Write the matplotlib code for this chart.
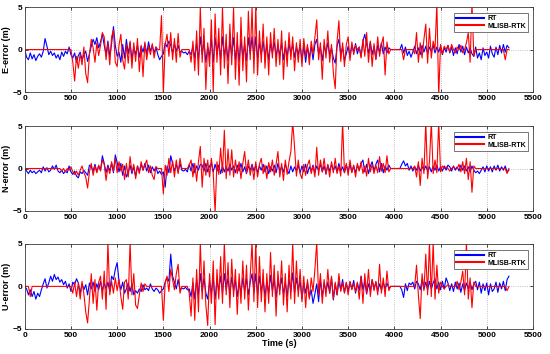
import numpy as np
import matplotlib
matplotlib.use('Agg')
import matplotlib.pyplot as plt

# time axis, one sample every 20 s
t = np.arange(0, 5241, 20)

# E component
e_rt = [
    0, -0.9, -1.2, -0.4, -1.1, -0.6, -1.3, -0.8, -0.5, -0.9, -0.2, 1.3, 0.4, -0.6, -0.2, -0.7, -0.4, -1.0, -0.6, -1.2, -0.3, -0.8, -0.2, -0.5, 0.3,
    -0.6, -1.0, -0.4, -1.5, -0.7, -0.3, -1.2, -0.6, -0.2, -1.4, -0.5, 0.4, 1.2, 0.6, 1.4, 0.2, 0.9, 1.8, 0.5, -0.6, 1.0, -0.8, 0.7, 2.7, 0.5,
    -0.8, -0.3, -1.5, 0.6, -1.0, 1.2, -0.5, 0.8, -1.2, 0.3, -0.6, 0.5, -0.9, 0.4, -0.3, 0.7, -0.5, 0.9, -0.2, 0.5, -0.4, 0.3, -0.6, -1.2, -0.8,
    -0.5, 0.8, 0.3, 1.0, 0.5, -0.4, 0.7, -0.2, 0.5, -0.3, -0.2, -0.4, -0.3, -0.6, -0.2, -0.6, 0.4, -1.0, 0.8, -1.2, 1.5, -0.6, 0.9, -1.5, 0.3,
    -0.8, 1.2, -1.5, 1.4, -0.6, 0.9, -1.1, 1.5, -0.8, 0.7, -1.3, 1.0, -0.7, 1.4, -1.2, 0.8, -1.4, 1.2, -0.9, 0.6, -1.3, 1.4, -0.5, 1.5, -1.0,
    1.5, -1.1, 0.8, -0.6, 1.0, -0.9, 0.6, -1.2, 0.7, -0.4, 0.9, -0.8, 0.5, -0.7, 0.8, -1.2, 0.4, -0.8, 0.7, -0.5, 0.6, -0.9, 0.3, -0.6, 0.5,
    -1.3, 0.5, -1.5, 0.3, -1.0, 0.4, -1.2, 0.6, 1.2, -0.5, 0.3, -1.3, 0.5, -0.4, 0.8, -0.6, 0.2, -1.0, -1.6, 0.4, 1.2, -0.6, 0.3, -1.3, -0.5,
    0.4, -0.9, 0.6, -0.3, 0.7, -0.5, 0.3, -0.8, 1.0, 1.8, 0.6, -0.4, 0.9, -0.6, 0.4, -1.1, 0.5, -0.3, 0.8, -0.5, 0.3, -0.4, 0.2, 0, 0,
    0, 0, 0, 0, 0.6, -0.4, 0.3, -0.7, -0.2, -0.9, -0.3, 0.4, -0.5, 0.2, -0.6, 0.5, -0.3, 0.4, -0.5, 0.3, -0.2, 0.5, -0.4, 0.3, -0.3,
    0.4, -0.6, 0.2, -0.3, 0.5, -0.4, 0.3, -0.7, 0.2, -0.5, 0.6, -0.3, 0.4, -0.6, 0.3, -0.4, 0.2, -0.5, -0.8, 0.3, -1.0, -0.4, -1.2, 0.2, -0.7,
    -0.3, -1.0, 0.4, -0.5, -0.9, 0.3, -0.6, 0.5, -0.4, 0.6, -0.3, 0.5, 0.2,
]
e_ml = [
    0, 0, 0, 0, 0, 0, 0, 0, 0, 0, 0, 0, 0, 0, 0, 0, 0, 0, 0, 0, 0, 0, 0, 0, 0,
    0, -1.5, -3.7, -0.8, -2.2, -0.5, -1.8, 0.3, -2.8, -3.9, -0.6, 1.2, 0.2, -1.5, 0.8, -0.7, 0.5, 2.0, 1.5, -1.2, 0.8, -1.8, 1.5, 2.3, -1.5,
    -2.0, 0.5, 1.8, -1.2, -2.3, 0.6, -1.6, 1.0, -2.2, 0.8, -1.4, 1.3, -2.6, 0.5, -3.2, 0.9, -1.2, 0.4, -0.6, 0.7, -1.0, 0.3, 0, 0, 4.0,
    -5.2, 0.6, 1.8, -0.8, 2.0, -1.2, 1.3, -1.5, 1.9, -0.9, 0, 0, 0, 0, 0, -1.5, 1.0, -2.5, 2.2, -3.0, 5.0, -1.5, 2.5, -4.7, 0.8,
    -2.0, 3.5, -5.0, 4.2, -1.5, 2.5, -3.0, 5.0, -2.2, 1.8, -4.0, 3.0, -1.8, 5.0, -3.5, 2.0, -4.2, 3.8, -2.5, 1.5, -3.8, 4.5, -1.2, 5.0, -2.8,
    5.0, -3.0, 2.2, -1.5, 3.0, -2.2, 1.5, -3.0, 2.0, -1.0, 2.5, -2.0, 1.2, -1.8, 2.2, -3.5, 1.0, -2.0, 2.0, -1.2, 1.5, -2.5, 0.8, -1.5, 1.2,
    -2.0, 1.3, -0.8, 0.6, -1.8, 1.0, -0.5, 1.4, 3.5, -1.2, 0.8, -3.5, 1.2, -1.0, 2.2, -1.5, 0.6, -2.8, -4.6, 1.0, 3.4, -1.4, 0.8, -2.0, 0.6,
    1.5, -1.3, 0.9, -0.6, 0.5, 0, 0.3, -1.0, 1.2, -0.8, 2.0, -1.5, 1.0, -2.0, 0.7, -1.2, 1.5, -0.8, 0.6, 1.5, -3.0, 0.9, -0.5, 0, 0,
    0, 0, 0, 0, 0, -1.2, 0, 0, 0, 0, 0, -0.5, 2.0, -1.5, 0.8, -1.0, 1.2, 3.0, -1.6, 2.5, -1.0, 1.0, 0, 5.5, -5.5,
    0.6, -0.5, 0.4, 0, 0.5, -0.3, 0.6, 0, -0.4, 0.3, 0, 0.5, -0.4, 0, 0.8, 2.0, -1.5, 5.5, -0.8, 0, 0, 0, 0, 0, 0,
    0, 0, 0, 0, 0, 0, 0, 0, 0, 0, -1.2, 0, 0,
]

# N component
n_rt = [
    0, -0.3, -0.6, -0.2, -0.5, -0.3, -0.6, -0.4, -0.2, -0.5, 0.2, -0.3, 0.1, -0.4, -0.2, 0.3, -0.1, 0.4, -0.3, -0.5, -0.2, -0.6, -0.3, -0.5, 0.3,
    -0.4, -0.7, -0.3, -0.9, -1.1, -0.4, -0.6, -0.2, -0.5, -0.8, 0.4, 0.2, -0.3, 0.5, -0.4, 0.3, -0.2, 1.5, 0.6, -0.5, 0.4, -0.3, 0.6, -0.5, 1.6,
    0.7, -0.4, 0.6, -0.8, 0.3, -1.0, -0.5, 0.4, -0.6, 0.2, -0.9, 0.3, -0.4, 0.5, -0.2, 0.6, -0.3, 0.4, -0.5, 0.2, -0.3, 0.2, -0.6, -0.3, -0.7,
    -0.4, -2.2, 0.3, -0.5, 1.5, 0.6, -0.3, 0.5, -0.4, 0.6, -0.2, -0.3, -0.1, -0.4, 0.5, -0.3, 0.6, -0.5, 0.3, -0.2, 0.5, 0.4, -0.3, 0.6, -0.4,
    0.3, 0.6, -0.4, 0.5, -0.3, 0.4, -0.6, 0.3, -0.4, 0.2, -0.3, 0.5, -0.2, 0.3, -0.5, 0.4, -0.3, 0.6, -0.4, 0.2, -0.6, 0.3, -0.2, 0.5, -0.3,
    0.4, -0.5, 0.3, -0.2, 0.5, -0.4, 0.3, -0.6, 0.2, -0.3, 0.4, -0.5, 0.6, -0.3, 0.2, -0.4, 0.5, -0.2, -0.6, 0.3, -0.4, 0.2, -0.3, 0.4, -0.5,
    0.3, -0.4, 0.5, -0.6, 0.2, -0.3, 0.4, -0.5, 0.3, -0.2, 0.5, -0.4, 0.3, -0.6, 0.4, -0.3, 0.5, -0.2, 0.3, -0.4, 0.6, -0.3, 0.2, -0.5, 0.4,
    -0.3, 0.5, -0.4, 0.3, -0.5, 0.4, -0.2, 0.6, 1.0, -0.4, 0.5, -0.6, 0.3, 0.8, -0.3, 0.5, 1.0, -0.4, 0.6, -0.5, 0.3, -0.2, 0.4, 0, 0,
    0, 0, 0, 0, 0.5, 0.9, 0.3, 0.6, -0.2, 0.3, -0.3, 0.2, -0.2, 0.4, -0.3, 0.2, -0.2, 0.3, -0.3, 0.2, -0.4, 0.3, -0.2, 0.4, -0.3,
    0.2, -0.3, 0.3, -0.2, 0.4, 0.2, -0.3, 0.3, -0.2, 0.2, -0.3, 0.4, -0.2, 0.3, -0.3, 0.2, -0.4, 0.3, -0.2, -0.5, -0.3, -0.6, -0.2, 0.2, -0.4,
    0.3, -0.3, 0.2, -0.4, 0.3, -0.2, 0.4, -0.3, 0.2, -0.2, 0.3, -0.4, -0.2,
]
n_ml = [
    0, 0, 0, 0, 0, 0, 0, 0, 0, 0, 0, 0, 0, 0, 0, 0, 0, 0, 0, 0, -0.3, 0, -0.4, 0, -0.2,
    0.2, -0.4, -0.7, -0.3, -0.8, -0.2, 0.3, -0.5, -1.0, -2.3, -0.4, 0.6, -0.8, 0.3, -0.5, 0.4, -0.3, 1.0, 0.5, -1.4, 0.2, -0.6, 0.8, -0.3, 1.2,
    -0.5, 0.8, -0.3, 0.5, -1.3, 0.6, -1.0, 1.4, -0.4, 0.5, -1.2, 0.3, -0.6, 0.8, -0.2, 0.4, 1.0, -0.5, 0.3, -0.8, -1.3, 0.2, 0, 0, 0,
    -3.0, 0.4, -0.8, 1.2, -0.5, 0.9, -1.0, 1.0, -0.6, 1.2, 0, 0, 0, 0, 0.4, 1.0, -1.0, 0.6, -1.5, 0.8, 2.6, -2.2, 1.2, -0.8, 1.0,
    -1.0, 1.2, -0.6, -5.2, 0.8, -0.7, 2.4, -0.5, 4.5, -1.2, 2.3, -0.8, 2.2, -1.0, 1.0, -0.6, 0.8, -1.2, 0.6, 2.0, -0.5, 1.0, -0.8, 0.4, -1.3,
    0.8, -1.0, 0.5, 1.2, -0.6, 0.4, -1.2, 0.7, -0.4, 1.0, -0.8, 0.5, 2.0, -1.0, 0.6, -1.4, 1.0, -0.7, 0.8, 2.0, 5.5, 2.5, -0.9, 1.0, -0.6,
    -1.2, 0.5, -0.8, 0.4, 1.0, -0.6, 0.3, -1.0, 2.5, -0.8, 1.0, -0.4, 1.2, -0.7, 0.5, -1.0, 0.8, -0.5, 1.2, -0.6, 0.3, -0.9, 5.5, -0.5, 0.6,
    -0.8, 1.0, -0.5, 0.4, -1.0, 0.6, -0.3, 0.8, -0.6, 0.3, -0.9, 1.2, -0.4, 0.5, -0.6, 0.4, -0.5, 1.4, -0.3, 0.6, -0.5, 1.5, -0.4, 0, 0,
    0, 0, 0, 0, 0, 0, 0, 0, 0, 0, 0, 0.3, -1.0, 0.8, -2.0, 1.2, -0.6, 5.5, -1.2, 0.8, 5.5, -0.6, 1.0, -0.5, 5.5,
    -0.4, 0.3, 0, 0.2, 0, -0.3, 0, 0.2, 0, 0, 0.5, -0.4, 0.8, -0.6, 1.2, -1.3, 0.8, -2.8, 0.3, 0, 0, 0, 0, 0, 0,
    0, 0, 0, 0, 0, 0, 0, 0, 0, 0, 0, -0.6, 0,
]

# U component
u_rt = [
    0, -0.3, -1.0, -0.4, -1.2, -0.6, -1.5, -0.8, -1.2, -0.4, 0.3, 0.9, -0.2, 0.4, 1.2, 0.6, 1.4, 0.8, 1.1, 0.5, 0.8, 0.2, 0.6, -0.2, 0.3,
    -0.6, 0.5, 0.2, 0.9, 0.4, -0.8, 0.3, -0.4, 0.2, -1.0, 0.4, -0.3, 0.5, -0.6, 0.3, -0.4, 0.6, -0.5, 0.4, -0.3, 0.5, -0.6, 1.2, 0.8, 2.0,
    2.8, 0.6, -0.4, 0.5, -0.8, -0.3, 0.4, -0.6, 0.3, -1.0, -0.5, -0.8, -0.3, -0.6, 0.2, -0.4, -0.2, -0.5, 0.3, -0.3, -0.6, -0.2, -0.4, -0.8, -0.5,
    -0.3, 0.5, 1.0, 0.6, 3.8, 1.2, 0.5, -0.3, 0.8, -0.4, -0.2, -0.3, -0.1, -0.4, -0.3, -1.2, 0.4, -1.5, 0.8, -1.0, 1.5, -0.6, 1.0, -0.8, -1.5,
    0.6, -0.8, 1.0, -1.5, 0.7, -0.5, 1.2, -0.8, 1.5, -0.4, 1.0, -0.9, 1.1, -0.5, 0.7, -1.2, 0.5, -0.8, 1.0, -0.6, 0.9, -1.0, 0.5, 1.5, -0.7,
    1.5, -1.0, 1.2, -0.7, 0.8, -1.2, 0.5, -0.8, 1.3, -0.5, 0.9, -1.3, 0.6, -0.4, 1.0, -0.9, 0.5, -1.2, 0.9, -0.6, 1.6, -0.8, 1.0, -0.5, 0.7,
    -1.5, 0.4, -0.8, 0.5, -1.3, -0.4, -2.0, -0.9, 0.3, -1.8, 0.8, -1.2, 0.4, -0.6, 0.5, -0.8, 1.0, -1.6, 0.3, -1.0, 0.6, -0.4, 0.8, -0.7, 0.4,
    -0.6, 0.5, -0.3, 0.7, -0.8, 0.4, -0.5, 1.2, -0.4, 0.6, -0.9, 0.3, -0.5, 0.8, -0.3, 0.5, -0.6, 0.3, -0.4, 0.5, -0.3, 0.4, -0.2, 0, 0,
    0, 0, 0, 0, -0.4, -1.3, 0.3, -0.5, 0.4, 0.2, 0.5, -0.3, 0.6, 0.3, -0.4, 0.8, -0.3, 0.5, -0.4, 0.6, -0.3, 0.4, 0.9, -0.3, 0.5,
    -0.4, 0.6, -0.3, 1.0, 0.4, -0.5, 0.3, -0.6, 0.5, -0.3, 0.4, -0.7, 0.3, -0.5, 0.4, -0.3, 0.5, -0.4, 0.3, 0.6, -0.4, 0.5, -0.8, 0.3, -0.5,
    0.4, -1.0, 0.3, -0.6, -0.3, 0.5, -0.7, 0.4, -0.3, 0.6, -0.5, 0.8, 1.2,
]
u_ml = [
    0, 0, 0, -1.2, 0, 0, 0, 0, 0, 0, 0, 0, 0, 0, 0, 0, 0, 0, 0, 0, 0, 0, 0, 0, 0,
    0, -0.8, 0.5, -1.2, 0.4, -1.5, 0.6, -0.9, -3.0, -4.3, -1.5, 1.5, -2.0, 0.8, -2.8, 0.5, 1.2, -1.5, 1.8, -2.7, 5.2, -1.0, 0.6, -0.8, 1.0,
    -0.5, 0.8, -1.2, -2.7, 0.5, 0.8, -1.5, 5.2, -1.0, 1.5, -2.2, -2.6, -1.0, 0.4, -0.6, 0.3, 0, 0, 0, 0, 0, 0, 0, 0, 0,
    -4.0, 0.5, 1.2, -0.6, 2.0, 0.8, -0.4, 1.5, 2.6, -0.8, 0, 0, 0, 0, -0.8, -3.5, 1.0, -4.0, 2.0, -3.0, 5.2, -1.5, 3.0, -2.2, -4.6,
    1.5, -2.0, 3.0, -4.5, 2.0, -1.5, 3.5, -2.0, 5.2, -1.0, 2.8, -2.5, 3.2, -1.2, 2.0, -3.3, 1.5, -2.0, 3.0, -1.5, 2.5, -2.8, 1.2, 5.2, -1.8,
    5.2, -2.5, 3.5, -1.8, 2.0, -3.0, 1.5, -2.0, 4.0, -1.2, 2.5, -3.5, 1.8, -1.0, 3.0, -2.2, 1.5, -3.0, 2.5, -1.5, 5.2, -2.0, 3.0, -1.2, 2.0,
    -1.8, 1.2, -2.5, 0.8, -1.5, 1.0, -0.6, 2.0, 5.2, -1.0, 1.5, -2.0, 0.8, -1.2, 2.0, -0.8, 1.2, -1.5, 0.5, -1.0, 1.5, -0.6, 0.4, -0.8, 0.5,
    -1.0, 0.6, -0.4, 0.3, -0.6, 0.5, -1.5, 1.2, -2.0, 1.5, -0.8, 2.0, -1.2, 0.8, -0.5, 0.6, -1.0, 2.6, -0.8, 1.0, -1.2, 1.8, -0.5, 0, 0,
    0, 0, 0, 0, 0, 0, 0, 0, 0, 0, 0, 0, 2.5, -1.0, -3.8, 1.5, -0.5, 3.8, -1.0, 5.2, -1.2, 5.2, -1.5, 2.5, -0.8,
    0.5, 0, -0.3, 0, 0.2, 0, 0, 0, 0, 0.6, -0.4, 0.5, 1.8, -1.0, 5.2, -1.5, 1.0, -2.5, 0.5, 0, 0, 0, 0, 0, 0,
    0, 0, 0, 0, 0, 0, 0, 0, 0, 0, 0, -0.5, 0,
]

plt.rcParams['font.family'] = ['Liberation Sans', 'DejaVu Sans']
plt.rcParams['font.weight'] = 'bold'

fig = plt.figure(figsize=(5.5, 3.54), dpi=100)
boxes = [[0.045, 0.740, 0.924, 0.240],
         [0.045, 0.404, 0.924, 0.240],
         [0.045, 0.071, 0.924, 0.240]]
series = [(e_rt, e_ml, 'E-error (m)'),
          (n_rt, n_ml, 'N-error (m)'),
          (u_rt, u_ml, 'U-error (m)')]

for i, (rt, ml, lab) in enumerate(series):
    ax = fig.add_axes(boxes[i])
    ax.plot(t, rt, color='#0000ff', lw=0.8, label='RT')
    ax.plot(t, ml, color='#ff0000', lw=0.8, label='MLISB-RTK')
    ax.set_xlim(0, 5500)
    ax.set_ylim(-5, 5)
    ax.set_xticks(np.arange(0, 5501, 500))
    ax.set_yticks([-5, 0, 5])
    ax.tick_params(direction='in', top=True, right=True, labelsize=6,
                   length=2.5, width=0.5, pad=2)
    ax.grid(True, linestyle=':', color='#b0b0b0', lw=0.6)
    for s in ax.spines.values():
        s.set_linewidth(0.6)
        s.set_color('#404040')
    ax.set_ylabel(lab, fontsize=6.5, fontweight='bold', labelpad=1)
    leg = ax.legend(loc='upper right', fontsize=5, handlelength=4.0,
                    borderpad=0.3, labelspacing=0.1, handletextpad=0.4,
                    fancybox=False, framealpha=1, borderaxespad=0,
                    bbox_to_anchor=(0.99, 0.93))
    leg.get_frame().set_edgecolor('#404040')
    leg.get_frame().set_linewidth(0.5)
    for ln in leg.get_lines():
        ln.set_linewidth(1.5)
    if i == 2:
        ax.set_xlabel('Time (s)', fontsize=6.5, fontweight='bold', labelpad=0)

fig.savefig('out.png', dpi=100)
